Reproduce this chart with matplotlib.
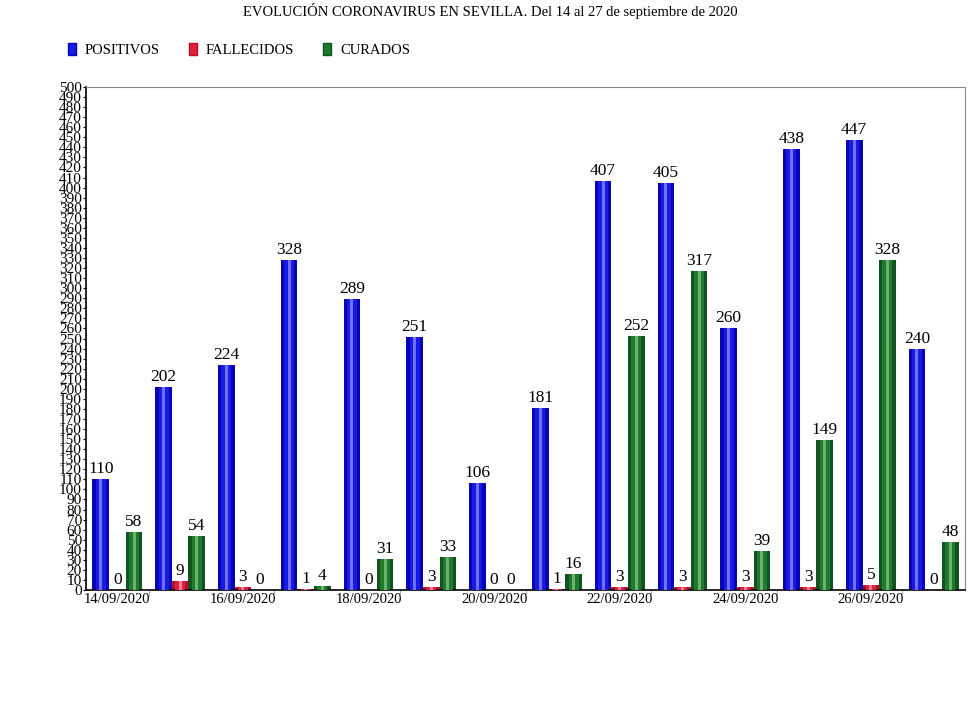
import matplotlib
matplotlib.use("Agg")
import matplotlib.pyplot as plt
from matplotlib.patches import Patch
import numpy as np

plt.rcParams["font.family"] = ["Liberation Serif", "DejaVu Serif"]

dates = ["14/09/2020", "15/09/2020", "16/09/2020", "17/09/2020", "18/09/2020",
         "19/09/2020", "20/09/2020", "21/09/2020", "22/09/2020", "23/09/2020",
         "24/09/2020", "25/09/2020", "26/09/2020", "27/09/2020"]
positivos = [110, 202, 224, 328, 289, 251, 106, 181, 407, 405, 260, 438, 447, 240]
fallecidos = [0, 9, 3, 1, 0, 3, 0, 1, 3, 3, 3, 3, 5, 0]
curados = [58, 54, 0, 4, 31, 33, 0, 16, 252, 317, 39, 149, 328, 48]

series = [
    ("POSITIVOS", positivos, ("#0606b8", "#1a1ae0", "#7070ff")),
    ("FALLECIDOS", fallecidos, ("#b8102a", "#e02040", "#ff8090")),
    ("CURADOS", curados, ("#125420", "#1f7a2e", "#6cb070")),
]

fig = plt.figure(figsize=(9.8, 7.2), dpi=100)
ax = fig.add_axes([86/980, 130/720, 879/980, 503/720])

# three bars per day, each with a lighter stripe in the middle
x = np.arange(len(dates)) + 0.5
w = 0.265
for k, (name, vals, (dark, mid, light)) in enumerate(series):
    xs = x + (k - 1) * w
    ax.bar(xs, vals, width=w, color=dark, linewidth=0, zorder=2)
    ax.bar(xs, vals, width=w * 0.6, color=mid, linewidth=0, zorder=3)
    ax.bar(xs, vals, width=w * 0.18, color=light, linewidth=0, zorder=4)
    for xi, v in zip(xs, vals):
        ax.text(xi, v + 2, str(v), ha="center", va="bottom", fontsize=12.5, zorder=5)

ax.set_xlim(0, len(dates))
ax.set_ylim(0, 500)
ax.set_yticks(range(0, 501, 10))
ax.tick_params(axis="y", length=2, labelsize=11, pad=1)
ax.set_xticks(x[::2])
ax.set_xticklabels(dates[::2])
ax.tick_params(axis="x", length=0, labelsize=10.5, pad=2)
ax.set_xticks(np.arange(1, len(dates), 2), minor=True)
ax.tick_params(axis="x", which="minor", length=4, color="#999999")
for s in ("top", "right"):
    ax.spines[s].set_color("#888888")
    ax.spines[s].set_linewidth(0.8)
ax.spines["left"].set_linewidth(1.2)
ax.spines["bottom"].set_linewidth(1.2)

fig.text(0.5, 1 - 11/720, "EVOLUCIÓN CORONAVIRUS EN SEVILLA. Del 14 al 27 de septiembre de 2020",
         ha="center", va="center", fontsize=10.5)

handles = [Patch(facecolor=c[1], edgecolor=c[0]) for _, _, c in series]
fig.legend(handles, [s[0] for s in series], loc="center left",
           bbox_to_anchor=(68/980, 1 - 50/720), ncol=3, frameon=False,
           borderpad=0, borderaxespad=0,
           fontsize=10.5, handlelength=0.55, handleheight=0.85, handletextpad=0.6,
           columnspacing=2.0)

fig.savefig("out.png", dpi=100)
